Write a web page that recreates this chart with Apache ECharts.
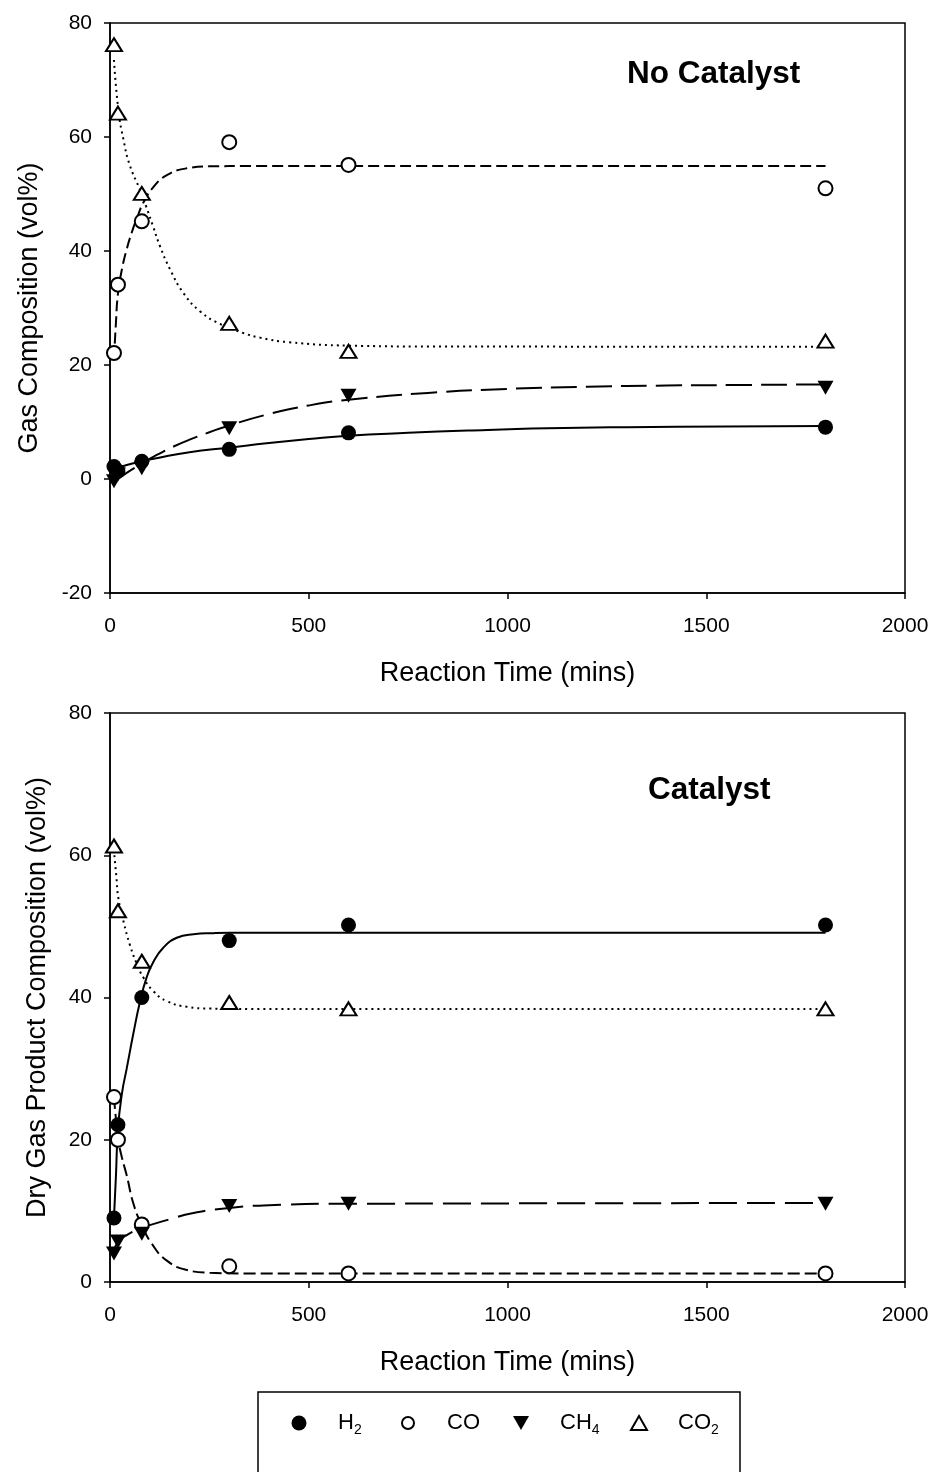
<!DOCTYPE html>
<html>
<head>
<meta charset="UTF-8">
<title>gas composition</title>
<script src="https://cdn.jsdelivr.net/npm/echarts@6/dist/echarts.min.js"></script>
<style>
  html, body { margin: 0; padding: 0; background: #fff; }
  #chart { width: 932px; height: 1472px; }
</style>
</head>
<body>
<div id="chart"></div>
<script type="text/javascript">
// sampling times (mins)
var xTime = [10, 20, 80, 300, 600, 1800];

// No catalyst - measured points
var topH2  = [2.2, 1.4, 3.1, 5.2, 8.1, 9.1];
var topCO  = [22.1, 34.1, 45.2, 59.1, 55.1, 51.0];
var topCH4 = [-0.4, 0.8, 1.9, 8.9, 14.6, 16.0];
var topCO2 = [76.2, 64.2, 50.1, 27.3, 22.4, 24.2];

// Catalyst - measured points
var botH2  = [9.0, 22.1, 40.0, 48.0, 50.2, 50.2];
var botCO  = [26.0, 20.0, 8.1, 2.2, 1.2, 1.2];
var botCH4 = [4.0, 5.7, 6.8, 10.7, 11.0, 11.0];
var botCO2 = [61.3, 52.2, 45.1, 39.3, 38.4, 38.4];

// fitted curves as [time, vol%]
var topH2Fit  = [[8,1.6],[40,2.4],[80,3.1],[120,3.7],[200,4.7],[300,5.5],[400,6.3],[500,7.0],[600,7.6],[750,8.1],[900,8.5],[1100,8.9],[1300,9.1],[1550,9.2],[1800,9.3]];
var topCOFit  = [[10,21],[15,27.5],[20,32.5],[30,36.8],[42,40.3],[55,43.3],[67,45.6],[84,48.5],[109,51.2],[143,53.3],[193,54.5],[250,54.85],[350,54.9],[1800,54.9]];
var topCH4Fit = [[8,-0.6],[20,0],[40,1],[80,2.7],[120,4.3],[160,5.7],[200,6.9],[250,8.2],[300,9.4],[400,11.4],[500,12.9],[600,13.9],[800,15.1],[1000,15.8],[1200,16.2],[1400,16.4],[1600,16.5],[1800,16.6]];
var topCO2Fit = [[10,73.5],[21,64.8],[34,59.5],[50,55],[75,50.8],[92,47.6],[109,44.2],[126,40.8],[151,36.8],[185,32.6],[227,29.4],[277,27.2],[336,25.6],[377,24.8],[450,24],[600,23.4],[800,23.25],[1800,23.2]];

var botH2Fit  = [[10,9],[15,15],[20,21.5],[30,26.5],[42,30],[59,35],[75,39.3],[92,42.8],[109,45],[134,47],[168,48.4],[210,48.9],[260,49.05],[300,49.1],[1800,49.1]];
var botCOFit  = [[10,26],[21,20],[30,17.5],[42,15],[59,11],[80,8],[105,5.4],[143,3.0],[193,1.7],[251,1.3],[350,1.2],[1800,1.2]];
var botCH4Fit = [[10,4.3],[20,5.6],[42,6.6],[80,7.6],[143,8.7],[210,9.7],[300,10.4],[400,10.8],[600,11.0],[1800,11.1]];
var botCO2Fit = [[11,60],[16,57],[21,54],[34,50.7],[50,47.4],[67,44.8],[84,42.8],[109,40.9],[143,39.5],[193,38.7],[251,38.45],[350,38.4],[1800,38.4]];

var gasNames = ['H2', 'CO', 'CH4', 'CO2'];

var FONT = 'Liberation Sans';

function pts(ys) {
    return xTime.map(function (x, i) { return [x, ys[i]]; });
}

// marker look for each gas
var markers = {
    H2:  { symbol: 'circle', symbolSize: 15, symbolRotate: 0, itemStyle: { color: '#000', opacity: 1 } },
    CO:  { symbol: 'circle', symbolSize: 14, symbolRotate: 0, itemStyle: { color: '#fff', borderColor: '#000', borderWidth: 2, opacity: 1 } },
    CH4: { symbol: 'triangle', symbolSize: [16, 14], symbolRotate: 180, itemStyle: { color: '#000', opacity: 1 } },
    CO2: { symbol: 'triangle', symbolSize: [16, 13], symbolRotate: 0, itemStyle: { color: '#fff', borderColor: '#000', borderWidth: 2, opacity: 1 } }
};

function scatter(name, ys, idx) {
    var m = markers[name];
    return {
        name: name,
        type: 'scatter',
        xAxisIndex: idx,
        yAxisIndex: idx,
        symbol: m.symbol,
        symbolSize: m.symbolSize,
        symbolRotate: m.symbolRotate,
        itemStyle: m.itemStyle,
        z: 5,
        data: pts(ys)
    };
}

function fit(name, data, idx, dash) {
    return {
        name: name + ' fit',
        type: 'line',
        xAxisIndex: idx,
        yAxisIndex: idx,
        smooth: 0.5,
        showSymbol: false,
        silent: true,
        z: 3,
        lineStyle: { color: '#000', width: 2, type: dash },
        data: data
    };
}

function xAx(idx) {
    return {
        type: 'value',
        gridIndex: idx,
        min: 0, max: 2000, interval: 500,
        name: 'Reaction Time (mins)',
        nameLocation: 'middle',
        nameGap: 67,
        nameTextStyle: { fontFamily: FONT, fontSize: 27, color: '#000' },
        axisLine: { show: true, onZero: false, lineStyle: { color: '#000', width: 1.5 } },
        axisTick: { show: true, length: 6, lineStyle: { color: '#000', width: 1.5 } },
        axisLabel: { fontFamily: FONT, fontSize: 21, color: '#000', margin: 23,
                     formatter: function (v) { return String(v); } },
        splitLine: { show: false }
    };
}

function yAx(idx, min, name, gap) {
    return {
        type: 'value',
        gridIndex: idx,
        min: min, max: 80, interval: 20,
        name: name,
        nameLocation: 'middle',
        nameGap: gap,
        nameTextStyle: { fontFamily: FONT, fontSize: 27, color: '#000' },
        axisLine: { show: true, onZero: false, lineStyle: { color: '#000', width: 1.5 } },
        axisTick: { show: true, length: 6, lineStyle: { color: '#000', width: 1.5 } },
        axisLabel: { fontFamily: FONT, fontSize: 21, color: '#000', margin: 18 },
        splitLine: { show: false }
    };
}

// one legend per entry so each sits where it does in the figure
var legendLeft = [291.5, 401, 513, 630];
var legendIconH = [15, 12, 14, 14];
var legendIcon = ['circle', 'circle', 'path://M0,0L16,0L8,14Z', 'path://M8,0L16,14L0,14Z'];

var legends = gasNames.map(function (n, i) {
    return {
        data: [{ name: n, icon: legendIcon[i] }],
        left: legendLeft[i],
        top: 1409,
        orient: 'horizontal',
        padding: 0,
        itemWidth: 68,
        itemHeight: legendIconH[i],
        itemGap: 0,
        symbolKeepAspect: true,
        selectedMode: false,
        formatter: function (name) {
            var m = name.match(/^(\D+)(\d*)$/);
            return '{b|' + m[1] + '}{s|' + (m[2] || ' ') + '}';
        },
        textStyle: {
            color: '#000',
            rich: {
                b: { fontFamily: FONT, fontSize: 22, color: '#000', lineHeight: 28 },
                s: { fontFamily: FONT, fontSize: 14, color: '#000', lineHeight: 14, padding: [14, 0, 0, 0] }
            }
        }
    };
});

var series = [];
series.push(fit('H2', topH2Fit, 0, 'solid'));
series.push(fit('CO', topCOFit, 0, [11, 5]));
series.push(fit('CH4', topCH4Fit, 0, [26, 9]));
series.push(fit('CO2', topCO2Fit, 0, [2, 4]));
series.push(fit('H2', botH2Fit, 1, 'solid'));
series.push(fit('CO', botCOFit, 1, [12, 5]));
series.push(fit('CH4', botCH4Fit, 1, [28, 10]));
series.push(fit('CO2', botCO2Fit, 1, [2, 4]));
series.push(scatter('H2', topH2, 0));
series.push(scatter('CO', topCO, 0));
series.push(scatter('CH4', topCH4, 0));
series.push(scatter('CO2', topCO2, 0));
series.push(scatter('H2', botH2, 1));
series.push(scatter('CO', botCO, 1));
series.push(scatter('CH4', botCH4, 1));
series.push(scatter('CO2', botCO2, 1));

var option = {
    backgroundColor: '#fff',
    animation: false,
    title: [
        { text: 'No Catalyst', left: 627, top: 58, padding: 0,
          textStyle: { fontFamily: FONT, fontSize: 31.5, fontWeight: 'bold', color: '#000' } },
        { text: 'Catalyst', left: 648, top: 774, padding: 0,
          textStyle: { fontFamily: FONT, fontSize: 31.5, fontWeight: 'bold', color: '#000' } }
    ],
    grid: [
        { left: 110, top: 23, width: 795, height: 570, show: true, borderColor: '#000', borderWidth: 1.5, backgroundColor: 'transparent' },
        { left: 110, top: 713, width: 795, height: 569, show: true, borderColor: '#000', borderWidth: 1.5, backgroundColor: 'transparent' }
    ],
    xAxis: [xAx(0), xAx(1)],
    yAxis: [
        yAx(0, -20, 'Gas Composition (vol%)', 67),
        yAx(1, 0, 'Dry Gas Product Composition (vol%)', 59)
    ],
    legend: legends,
    graphic: [{
        type: 'rect',
        shape: { x: 258, y: 1392, width: 482, height: 100 },
        style: { fill: 'none', stroke: '#000', lineWidth: 1.5 },
        silent: true
    }],
    series: series
};

var myChart = echarts.init(document.getElementById('chart'));
myChart.setOption(option);
</script>
</body>
</html>
